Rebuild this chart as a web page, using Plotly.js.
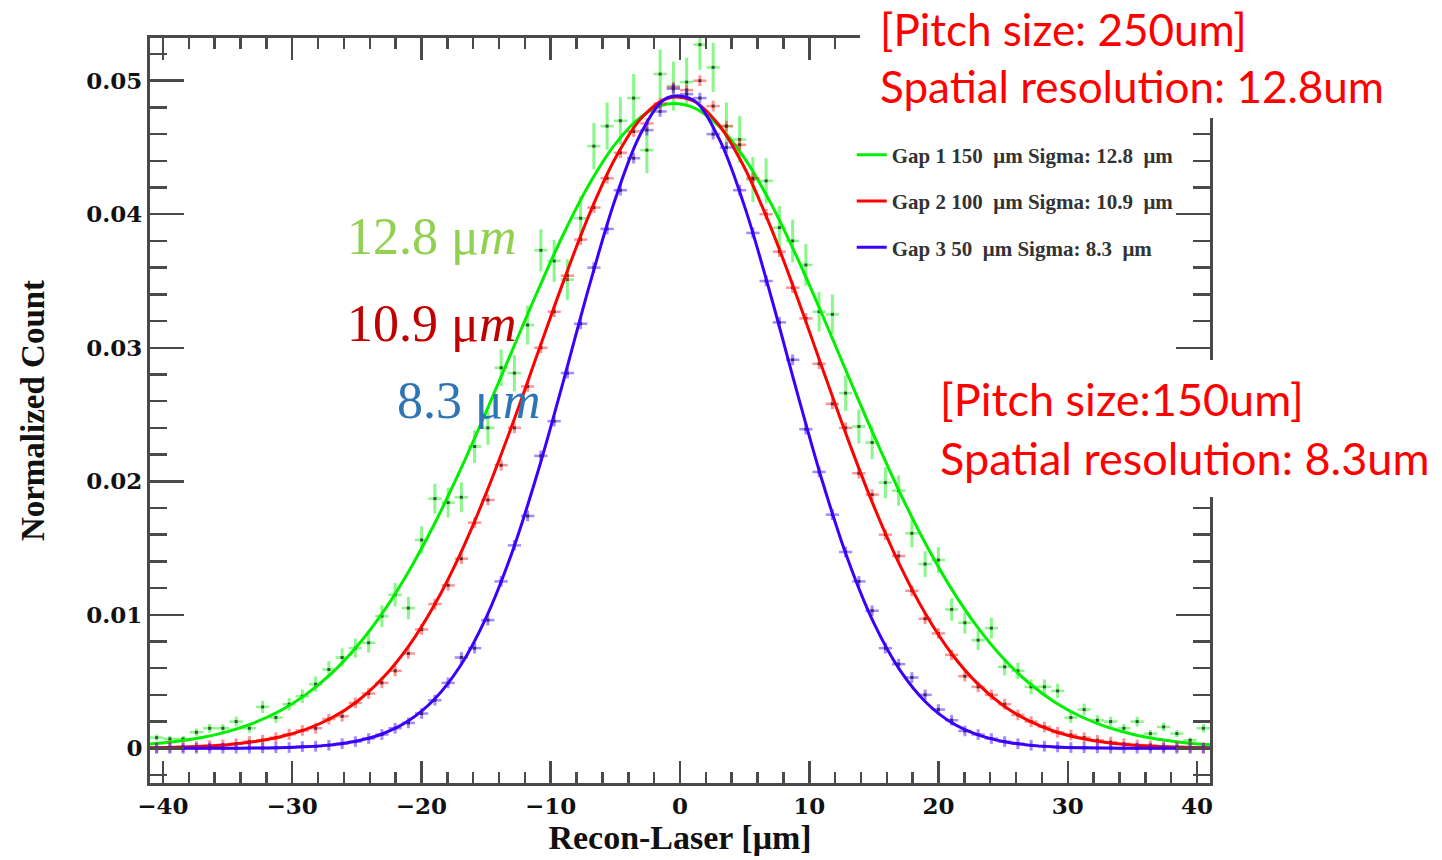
<!DOCTYPE html>
<html>
<head>
<meta charset="utf-8">
<script src="https://cdn.plot.ly/plotly-3.0.1.min.js"></script>
<style>html,body{margin:0;padding:0;background:#fff;}#chart{width:1442px;height:860px;}</style>
</head>
<body>
<div id="chart"></div>
<script>
// Histogram binning (80 bins spanning -41..41 um)
const binStart = -40.4875;
const binWidth = 1.025;
// Fit curve sampling
const fitStart = -41;
const fitStep = 2;

// Gap 1 (150 um) normalized counts
const gap1Counts = [
  0.0008,0.0007,0.0007,0.0012,0.0015,0.0015,0.0020,0.0015,0.0031,0.0023,
  0.0033,0.0039,0.0048,0.0059,0.0068,0.0075,0.0079,0.0099,0.0115,0.0105,
  0.0156,0.0187,0.0184,0.0188,0.0226,0.0240,0.0285,0.0281,0.0317,0.0373,
  0.0365,0.0351,0.0397,0.0451,0.0466,0.0470,0.0487,0.0448,0.0505,0.0496,
  0.0499,0.0527,0.0510,0.0466,0.0456,0.0426,0.0425,0.0390,0.0380,0.0362,
  0.0327,0.0325,0.0266,0.0241,0.0229,0.0199,0.0193,0.0161,0.0138,0.0141,
  0.0104,0.0094,0.0081,0.0090,0.0061,0.0058,0.0046,0.0046,0.0043,0.0023,
  0.0029,0.0021,0.0020,0.0015,0.0020,0.0011,0.0016,0.0011,0.0006,0.0015
];
const gap1Errors = [
  0.00023,0.00022,0.00022,0.00028,0.00032,0.00032,0.00037,0.00032,0.00046,0.00040,
  0.00047,0.00051,0.00057,0.00063,0.00068,0.00071,0.00073,0.00082,0.00088,0.00084,
  0.00102,0.00112,0.00111,0.00112,0.00123,0.00127,0.00138,0.00137,0.00146,0.00158,
  0.00157,0.00154,0.00163,0.00174,0.00177,0.00178,0.00181,0.00174,0.00184,0.00183,
  0.00183,0.00188,0.00185,0.00177,0.00175,0.00169,0.00169,0.00162,0.00160,0.00156,
  0.00148,0.00148,0.00134,0.00127,0.00124,0.00116,0.00114,0.00104,0.00096,0.00097,
  0.00084,0.00080,0.00074,0.00078,0.00064,0.00062,0.00056,0.00056,0.00054,0.00040,
  0.00044,0.00038,0.00037,0.00032,0.00037,0.00027,0.00033,0.00027,0.00020,0.00032
];
// Gap 2 (100 um)
const gap2Counts = [
  0.00005,0.00007,0.0001,0.00013,0.00019,0.00025,0.00034,0.0005,0.00061,0.0008,
  0.00104,0.00134,0.0015,0.00219,0.0024,0.0034,0.0041,0.0049,0.0058,0.0071,
  0.0089,0.0108,0.0122,0.0142,0.0169,0.0186,0.0212,0.0240,0.0271,0.0300,
  0.0327,0.0354,0.0381,0.0405,0.0427,0.0446,0.0462,0.0468,0.0483,0.0495,
  0.0493,0.0500,0.0481,0.0466,0.0452,0.0427,0.0400,0.0372,0.0345,0.0322,
  0.0288,0.0258,0.0240,0.0206,0.0190,0.0160,0.0144,0.0118,0.0097,0.0086,
  0.0070,0.0054,0.0046,0.0040,0.0033,0.0025,0.0020,0.0016,0.0012,0.0010,
  0.0008,0.0006,0.00046,0.00034,0.00025,0.00019,0.00013,0.0001,0.00007,0.00005
];
// Gap 3 (50 um)
const gap3Counts = [
  0,0,0,0.000001,0.000002,0.000005,0.00001,0.000016,0.000025,0.00004,
  0.00006,0.00013,0.00015,0.00023,0.00034,0.0005,0.00073,0.00103,0.0015,0.0019,
  0.0026,0.0036,0.0049,0.0068,0.0075,0.0096,0.0125,0.0152,0.0174,0.0219,
  0.0245,0.0281,0.0318,0.0360,0.0389,0.0418,0.0442,0.0463,0.0477,0.0494,
  0.0490,0.0487,0.0460,0.0450,0.0418,0.0386,0.0350,0.0319,0.0291,0.0239,
  0.0207,0.0175,0.0147,0.0125,0.0103,0.0075,0.0063,0.0053,0.0040,0.0029,
  0.0021,0.0013,0.00103,0.00073,0.0005,0.00034,0.00023,0.00015,0.0001,0.00006,
  0.00004,0.000025,0.000016,0.00001,0.000005,0.000003,0.000002,0.000001,0,0
];
const gap23Error = 0.0004;

const gap1Fit = [
  0.00032,0.00051,0.00081,0.00125,0.00189,0.00277,0.00398,0.00557,0.00762,0.01016,
  0.01323,0.0168,0.02083,0.0252,0.02975,0.03427,0.03854,0.04228,0.04527,0.04731,
  0.04825,0.04801,0.04662,0.04418,0.04087,0.03688,0.03249,0.02792,0.02343,0.01917,
  0.01532,0.01194,0.00909,0.00674,0.00489,0.00345,0.00238,0.0016,0.00105,0.00068,
  0.00042,0.00026
];
const gap2Fit = [
  0.00004,0.00008,0.00015,0.00027,0.00049,0.00084,0.0014,0.00225,0.00349,0.00526,
  0.00764,0.01073,0.01455,0.01909,0.02418,0.0296,0.03501,0.04003,0.04421,0.04719,
  0.04867,0.0485,0.0467,0.04346,0.03907,0.03395,0.0285,0.02312,0.01812,0.01373,
  0.01005,0.0071,0.00486,0.00321,0.00205,0.00126,0.00075,0.00043,0.00024,0.00013,
  0.00007,0.00003
];
const gap3Fit = [
  0,0.0000008,0.0000025,0.0000071,0.000019,0.000048,0.000114,0.000256,0.000545,0.00109,
  0.00206,0.00367,0.00616,0.00979,0.01465,0.02069,0.02758,0.03469,0.04116,0.0461,
  0.04871,0.04857,0.0457,0.04057,0.03399,0.02687,0.02004,0.0141,0.00937,0.00587,
  0.00347,0.00193,0.00102,0.000506,0.000237,0.000105,0.000044,0.000017,0.000006,0.000002,
  0.0000007,0.0000002
];

const legendNames = [
  "Gap 1 150\u00a0\u00a0\u03bcm Sigma: 12.8\u00a0\u00a0\u03bcm",
  "Gap 2 100\u00a0\u00a0\u03bcm Sigma: 10.9\u00a0\u00a0\u03bcm",
  "Gap 3 50\u00a0\u00a0\u03bcm Sigma: 8.3\u00a0\u00a0\u03bcm"
];

const xTickVals = [-40,-30,-20,-10,0,10,20,30,40];
const yTickVals = [0,0.01,0.02,0.03,0.04,0.05];
const yTickText = ["0","0.01","0.02","0.03","0.04","0.05"];

const dotColor = 'rgba(35,35,35,0.75)';

function dataTrace(y, err, barCol, constErr) {
  return {
    type: 'scatter', mode: 'markers', x0: binStart, dx: binWidth, y: y,
    showlegend: false, hoverinfo: 'x+y',
    marker: {size: 3, color: dotColor, symbol: 'square'},
    error_y: constErr ? {type: 'constant', value: constErr, color: barCol, thickness: 3, width: 0}
                      : {type: 'data', array: err, color: barCol, thickness: 3, width: 0},
    error_x: {type: 'constant', value: binWidth / 2, color: barCol, thickness: 2.5, width: 0}
  };
}
function fitTrace(y, col, name) {
  return {
    type: 'scatter', mode: 'lines', x0: fitStart, dx: fitStep, y: y,
    name: name, legendgroup: name,
    line: {color: col, width: 3, shape: 'spline', smoothing: 1}
  };
}

const green = '#00f000', red = '#ff0000', blue = '#3a00ff';
const traces = [
  dataTrace(gap1Counts, gap1Errors, 'rgba(40,240,40,0.55)'),
  fitTrace(gap1Fit, green, legendNames[0]),
  dataTrace(gap2Counts, null, 'rgba(255,40,40,0.5)', gap23Error),
  fitTrace(gap2Fit, red, legendNames[1]),
  dataTrace(gap3Counts, null, 'rgba(70,20,255,0.5)', gap23Error),
  fitTrace(gap3Fit, blue, legendNames[2])
];

const axisCommon = {
  showgrid: false, zeroline: false,
  showline: true, linecolor: '#4a4a4a', linewidth: 3, mirror: 'allticks',
  ticks: 'inside', tickcolor: '#4a4a4a', tickwidth: 2.5,
  tickfont: {family: 'DejaVu Serif', size: 23, color: '#111', weight: 'bold'}
};

const layout = {
  width: 1442, height: 860,
  margin: {l: 150, r: 232, t: 38, b: 77},
  paper_bgcolor: '#fff', plot_bgcolor: '#fff',
  xaxis: Object.assign({}, axisCommon, {
    range: [-41, 41], tickvals: xTickVals, ticklen: 22,
    minor: {dtick: 2, ticklen: 11, ticks: 'inside', tickcolor: '#4a4a4a', tickwidth: 2.5},
    title: {text: 'Recon-Laser [\u03bcm]', standoff: 6,
            font: {family: 'Liberation Serif', size: 34, color: '#111', weight: 'bold'}}
  }),
  yaxis: Object.assign({}, axisCommon, {
    range: [-0.0026, 0.0532], tickvals: yTickVals, ticktext: yTickText, ticklen: 34,
    minor: {dtick: 0.002, ticklen: 17, ticks: 'inside', tickcolor: '#4a4a4a', tickwidth: 2.5},
    title: {text: 'Normalized Count', standoff: 32,
            font: {family: 'Liberation Serif', size: 33, color: '#111', weight: 'bold'}}
  }),
  showlegend: true,
  legend: {
    x: 0.662, y: 0.8704, xanchor: 'left', yanchor: 'top',
    bgcolor: 'rgba(255,255,255,0)', borderwidth: 0,
    traceorder: 'grouped', tracegroupgap: 16,
    font: {family: 'Liberation Serif', size: 21, color: '#333', weight: 'bold'}
  },
  shapes: [
    // white cover boxes behind the red notes (they hide the frame like in the source)
    {type: 'rect', xref: 'paper', yref: 'paper', layer: 'above',
     x0: 0.6698, x1: 1.25, y0: 0.8926, y1: 1.07, fillcolor: '#ffffff', line: {width: 0}},
    {type: 'rect', xref: 'paper', yref: 'paper', layer: 'above',
     x0: 0.7311, x1: 1.25, y0: 0.3839, y1: 0.5678, fillcolor: '#ffffff', line: {width: 0}}
  ],
  annotations: [
    {xref: 'paper', yref: 'paper', x: 0.184, y: 0.733, xanchor: 'left', yanchor: 'middle',
     showarrow: false, text: '12.8 \u03bc<i>m</i>',
     font: {family: 'Liberation Serif', size: 52, color: '#92d050'}},
    {xref: 'paper', yref: 'paper', x: 0.184, y: 0.617, xanchor: 'left', yanchor: 'middle',
     showarrow: false, text: '10.9 \u03bc<i>m</i>',
     font: {family: 'Liberation Serif', size: 52, color: '#c00000'}},
    {xref: 'paper', yref: 'paper', x: 0.231, y: 0.514, xanchor: 'left', yanchor: 'middle',
     showarrow: false, text: '8.3 \u03bc<i>m</i>',
     font: {family: 'Liberation Serif', size: 52, color: '#2e75b6'}},
    {xref: 'paper', yref: 'paper', x: 0.6868, y: 0.9732, xanchor: 'left', yanchor: 'middle',
     showarrow: false, align: 'left',
     text: '[Pitch size: 250um]<br>Spatial resolution: 12.8um',
     font: {family: 'Lato', size: 44, color: '#ff0000'}},
    {xref: 'paper', yref: 'paper', x: 0.7434, y: 0.4765, xanchor: 'left', yanchor: 'middle',
     showarrow: false, align: 'left',
     text: '[Pitch size:150um]<br>Spatial resolution: 8.3um',
     font: {family: 'Lato', size: 45, color: '#ff0000'}}
  ]
};

Plotly.newPlot('chart', traces, layout, {displayModeBar: false, staticPlot: true});
</script>
</body>
</html>
